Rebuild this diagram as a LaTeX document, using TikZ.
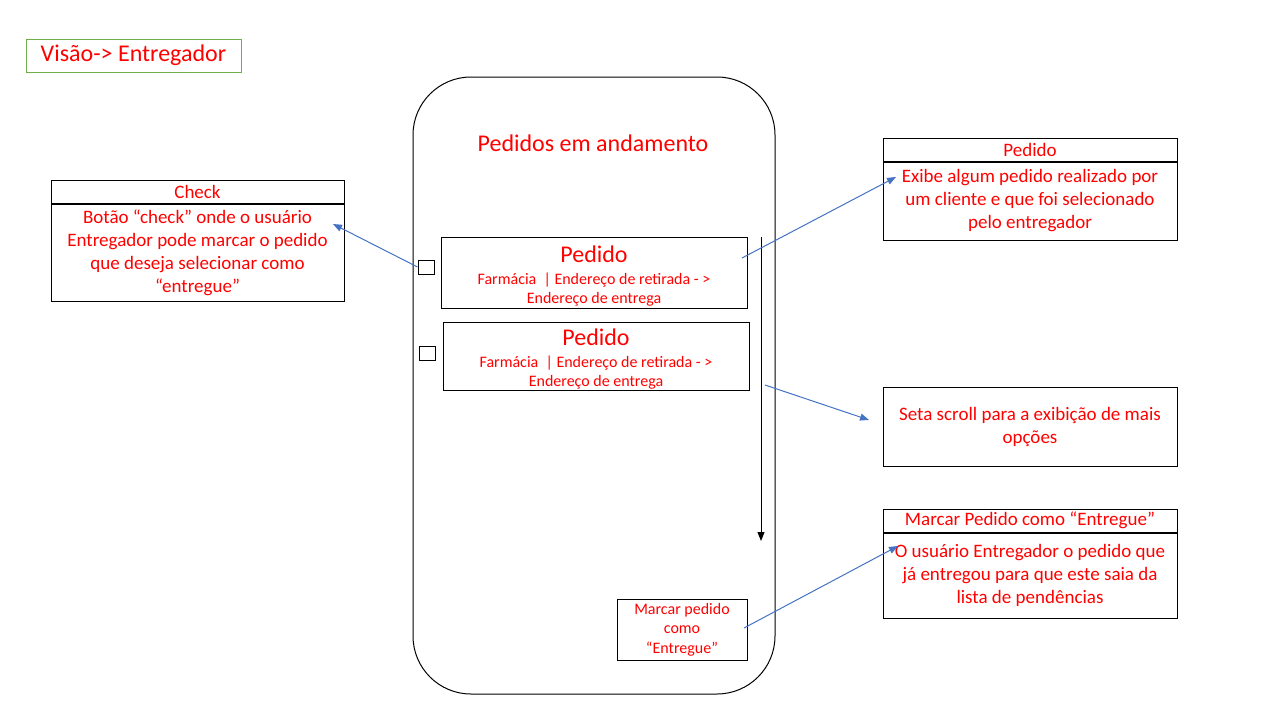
\documentclass[tikz,border=0pt]{standalone}
\usepackage{fontspec}
\setmainfont{Carlito}
\usetikzlibrary{positioning,calc,arrows.meta}

\definecolor{callout}{HTML}{4472C4}
\definecolor{titlegreen}{HTML}{70AD47}

\newcommand{\bigtxt}{\fontsize{24}{28}\selectfont}
\newcommand{\midtxt}{\fontsize{19}{23}\selectfont}
\newcommand{\smalltxt}{\fontsize{16}{19.5}\selectfont}

\tikzset{
    frame/.style={draw, line width=1pt, inner sep=0pt, text=red, align=center},
    infohead/.style={frame, minimum width=294, minimum height=23, font=\midtxt},
    infobody/.style={frame, minimum width=294, anchor=north, font=\midtxt},
    orderbox/.style={frame, minimum width=306, font=\smalltxt},
    checkmark/.style={draw, line width=1pt, minimum width=16, minimum height=14, inner sep=0pt},
    pointer/.style={callout, line width=1pt, -{Triangle[length=9pt,width=7pt]}}
}

\begin{document}
\begin{tikzpicture}[x=1pt, y=-1pt]
    \useasboundingbox (0,0) rectangle (1280,720);

    % title
    \node[frame, draw=titlegreen, minimum width=215, minimum height=33,
          font=\fontsize{24}{28}\selectfont] (title) at (133.5,55.5) {Visão-> Entregador};

    % phone screen
    \draw[line width=1pt, rounded corners=58pt] (413,77) rectangle (775,694);
    \node[text=red, font=\bigtxt] (screentitle) at (593,143) {Pedidos em andamento};

    \node[orderbox, minimum height=71] (order1) at (594,272.5)
        {\rule{0pt}{24pt}{\bigtxt Pedido}\\[2pt] Farmácia \ | Endereço de retirada - >\\ Endereço de entrega};
    \node[orderbox, minimum height=68] (order2) at (596,356)
        {\rule{0pt}{23pt}{\bigtxt Pedido}\\[2pt] Farmácia \ | Endereço de retirada - >\\ Endereço de entrega};

    \node[checkmark] (check1) at (426,267) {};
    \node[checkmark] (check2) at (427,353) {};

    \coordinate (scrolltop) at (761,237);
    \coordinate (scrollend) at (761,541);
    \draw[line width=1pt, -{Triangle[length=9pt,width=7pt]}] (scrolltop) -- (scrollend);

    \node[frame, minimum width=130, minimum height=61, font=\smalltxt, align=center] (markbtn) at (682,629.5)
        {Marcar pedido\\como\\“Entregue”};

    % left callout
    \node[infohead, minimum width=293] (checkhead) at (197.5,192) {Check};
    \node[infobody, minimum width=293, minimum height=97] (checkbody) at (checkhead.south)
        {Botão “check” onde o usuário\\Entregador pode marcar o pedido\\que deseja selecionar como\\“entregue”};

    % right callouts
    \node[infohead] (orderhead) at (1030,149.5) {Pedido};
    \node[infobody, minimum height=78] (orderbody) at (orderhead.south)
        {Exibe algum pedido realizado por\\um cliente e que foi selecionado\\pelo entregador};

    \node[frame, minimum width=294, minimum height=79, font=\midtxt] (scrollinfo) at (1030,426.5)
        {Seta scroll para a exibição de mais\\opções};

    \node[infohead] (markhead) at (1030,520.5) {Marcar Pedido como “Entregue”};
    \node[infobody, minimum height=85] (markbody) at (markhead.south)
        {O usuário Entregador o pedido que\\já entregou para que este saia da\\lista de pendências};

    % pointers
    \coordinate (checktip) at (333,224);
    \coordinate (ordersrc) at (742,258);
    \coordinate (ordertip) at (896,177);
    \coordinate (scrollsrc) at (765,385);
    \coordinate (scrolltip) at (869,420);
    \coordinate (marksrc) at (744,628);
    \coordinate (marktip) at (898,546);

    \draw[pointer] (check1.west) -- (checktip);
    \draw[pointer] (ordersrc) -- (ordertip);
    \draw[pointer] (scrollsrc) -- (scrolltip);
    \draw[pointer] (marksrc) -- (marktip);

\end{tikzpicture}
\end{document}
